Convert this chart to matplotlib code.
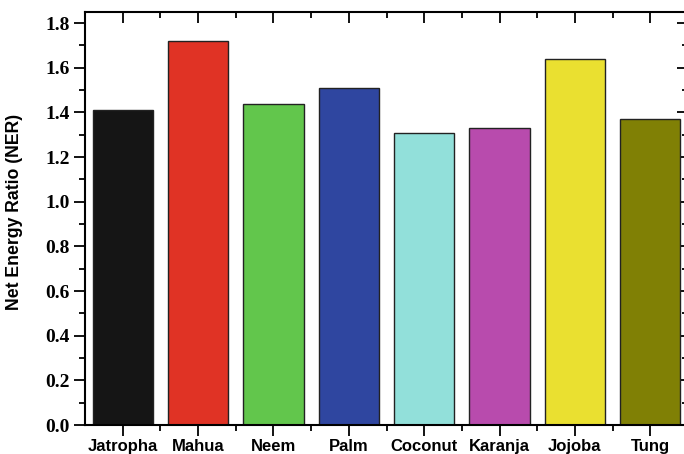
import matplotlib
matplotlib.use("Agg")
import matplotlib.pyplot as plt
from matplotlib.ticker import MultipleLocator, FixedLocator
import numpy as np

# data
crops = ["Jatropha", "Mahua", "Neem", "Palm", "Coconut", "Karanja", "Jojoba", "Tung"]
ner = [1.41, 1.72, 1.44, 1.51, 1.31, 1.33, 1.64, 1.37]
bar_colors = ["#151515", "#E03325", "#62C64C", "#2F46A0",
              "#92E0DA", "#B84BAD", "#EAE030", "#808005"]

fig = plt.figure(figsize=(6.84, 4.54), dpi=100)
# axes runs a bit past the right edge, like the cropped original
ax = fig.add_axes([85 / 684, 29 / 454, 603 / 684, 413 / 454])

x = np.arange(1, len(crops) + 1)
ax.bar(x, ner, width=0.8, color=bar_colors, edgecolor="#222222", linewidth=1.0, zorder=2)

ax.set_xlim(0.5, 8.5)
ax.set_ylim(0, 1.85)

# x ticks
ax.set_xticks(x)
ax.set_xticklabels(crops, fontfamily="Liberation Sans", fontweight="bold", fontsize=12)
ax.xaxis.set_minor_locator(FixedLocator(x[:-1] + 0.5))

# y ticks
ax.yaxis.set_minor_locator(MultipleLocator(0.1))
yt = np.arange(0, 1.81, 0.2)
ax.set_yticks(yt)
ax.set_yticklabels([f"{v:.1f}" for v in yt],
                   fontfamily="Liberation Serif", fontweight="bold", fontsize=14)

ax.tick_params(axis="both", which="major", length=8, width=1.3, direction="out",
               top=True, right=True, pad=3)
ax.tick_params(axis="x", which="major", pad=2)
ax.tick_params(axis="both", which="minor", length=4, width=1.3, direction="out",
               top=True, right=True)
# top and right ticks point inward
for t in ax.xaxis.get_major_ticks() + ax.xaxis.get_minor_ticks():
    t.tick2line.set_marker(3)
for t in ax.yaxis.get_major_ticks() + ax.yaxis.get_minor_ticks():
    t.tick2line.set_marker(0)

ax.set_ylabel("Net Energy Ratio (NER)", fontfamily="Liberation Sans", fontweight="bold",
              fontsize=12.7)
ax.yaxis.set_label_coords(-0.103, 0.517)

for s in ax.spines.values():
    s.set_linewidth(1.5)

fig.savefig("out.png", dpi=100)
